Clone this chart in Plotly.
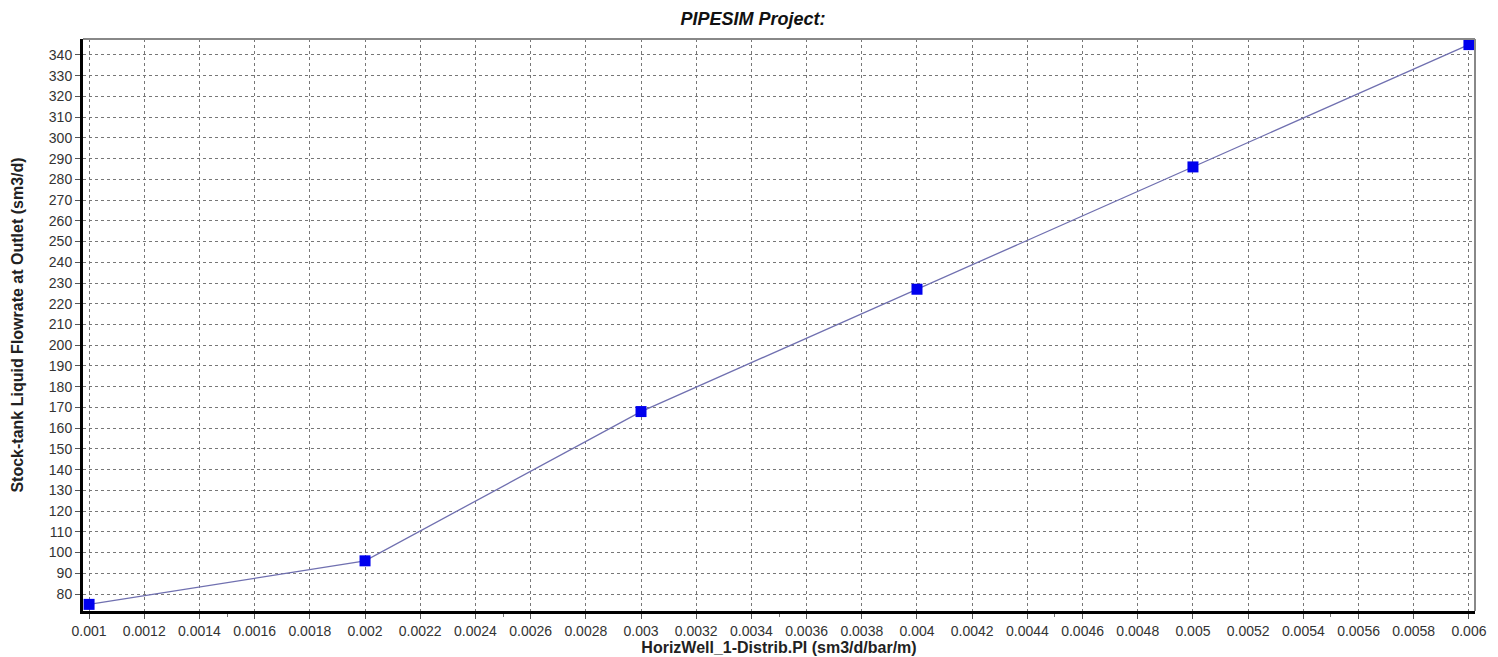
import plotly.graph_objects as go

x_pi = [0.001, 0.002, 0.003, 0.004, 0.005, 0.006]
flow = [75, 96, 168, 227, 286, 345]

x_ticks = [round(0.001 + 0.0002 * i, 4) for i in range(26)]
x_labels = [("%g" % v) for v in x_ticks]
y_ticks = list(range(80, 341, 10))

fig = go.Figure()
fig.add_trace(go.Scatter(
    x=x_pi, y=flow, mode="lines+markers",
    line=dict(color="#7070b0", width=1.3),
    marker=dict(symbol="square", size=11, color="#0000ee"),
    showlegend=False, cliponaxis=False,
))

axis_font = dict(family="Arial, Liberation Sans", size=14, color="#333333")
title_font = dict(family="Arial, Liberation Sans", size=16, color="#222222")
fig.update_layout(
    width=1490, height=649,
    paper_bgcolor="white", plot_bgcolor="white",
    margin=dict(l=75, r=23, t=31, b=46),
    title=dict(text="<b><i>PIPESIM Project:</i></b>", x=0.5, xanchor="center",
               y=0.993, yanchor="top",
               font=dict(family="Arial, Liberation Sans", size=18, color="#111111")),
    xaxis=dict(range=[0.000978, 0.006022], tickvals=x_ticks, ticktext=x_labels,
               automargin=False,
               showgrid=True, gridcolor="#777777", griddash="dot", gridwidth=1,
               showline=True, linecolor="black", linewidth=3,
               ticks="outside", ticklen=5, tickcolor="#555555",
               minor=dict(ticks="outside", ticklen=3, nticks=5, tickcolor="#777777", showgrid=False),
               tickfont=axis_font, zeroline=False,
               title=dict(text="<b>HorizWell_1-Distrib.PI (sm3/d/bar/m)</b>", standoff=1,
                          font=title_font)),
    yaxis=dict(range=[71.8, 347.7], tickvals=y_ticks,
               automargin=False,
               showgrid=True, gridcolor="#777777", griddash="dot", gridwidth=1,
               showline=True, linecolor="black", linewidth=3,
               ticks="outside", ticklen=5, tickcolor="#555555",
               minor=dict(ticks="outside", ticklen=3, nticks=3, tickcolor="#777777", showgrid=False),
               tickfont=axis_font, zeroline=False,
               title=dict(text="<b>Stock-tank Liquid Flowrate at Outlet (sm3/d)</b>", standoff=22,
                          font=title_font)),
    shapes=[
        dict(type="line", xref="paper", yref="paper", x0=0, x1=1, y0=1, y1=1,
             line=dict(color="#888888", width=2)),
        dict(type="line", xref="paper", yref="paper", x0=1, x1=1, y0=0, y1=1,
             line=dict(color="#888888", width=2)),
    ],
)
fig.write_html("out.html")
